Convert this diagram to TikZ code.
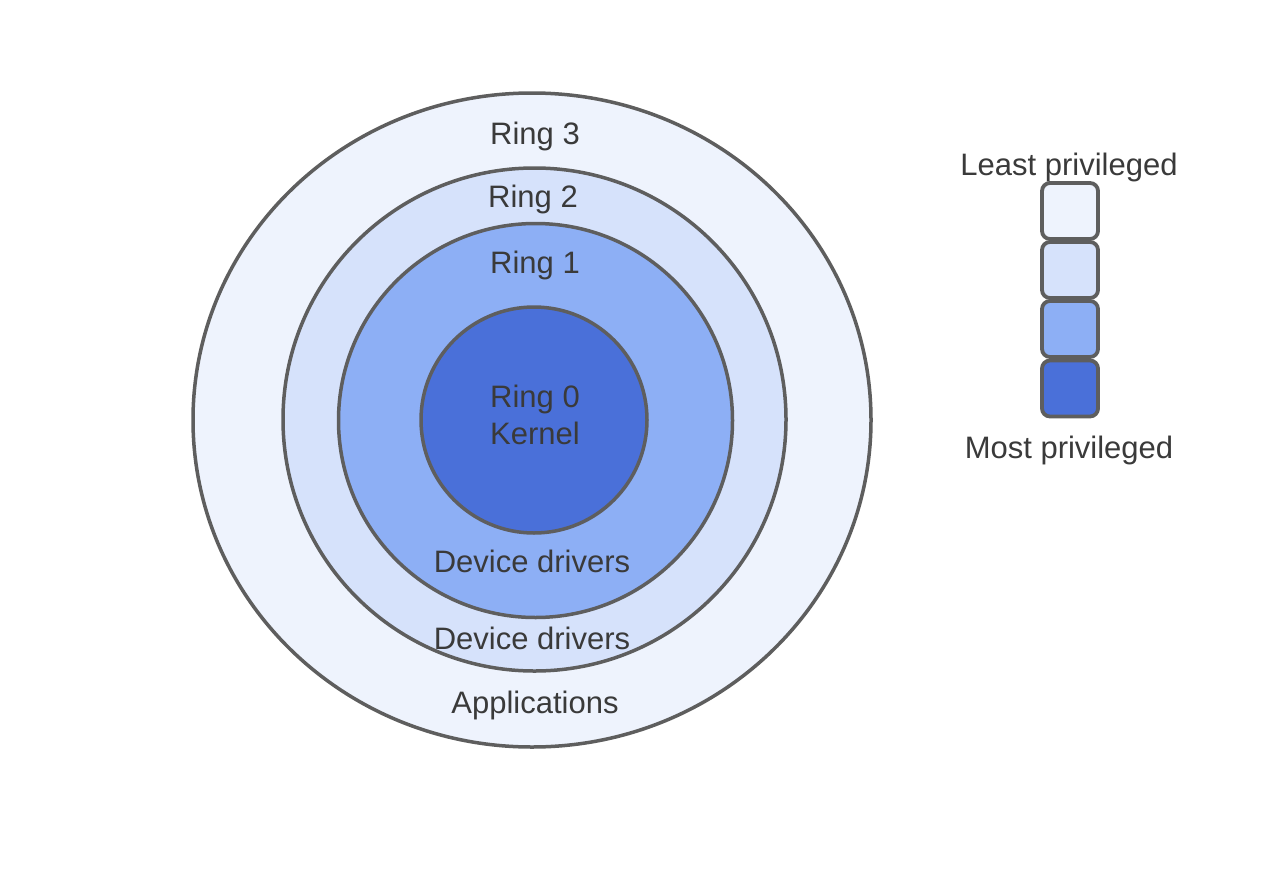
\documentclass[tikz,border=0pt]{standalone}
\usepackage{fontspec}
\setmainfont{Liberation Sans}
\usetikzlibrary{shapes.geometric}
\definecolor{cthree}{HTML}{EEF3FD}
\definecolor{ctwo}{HTML}{D6E2FB}
\definecolor{cone}{HTML}{8DAFF5}
\definecolor{czero}{HTML}{4A70D9}
\definecolor{edge}{HTML}{5E5E5E}
\definecolor{txt}{HTML}{3A3A3A}
\begin{document}
\begin{tikzpicture}[x=1pt,y=-1pt,
  ringshape/.style={draw=edge, line width=3.5pt, inner sep=0pt},
  lbl/.style={anchor=base, text=txt, font=\fontsize{31}{36}\selectfont, inner sep=0pt},
  keybox/.style={draw=edge, line width=3.8pt, rounded corners=8pt, minimum width=56pt, minimum height=56pt, inner sep=0pt}]
\path[fill=white] (0,0) rectangle (1276,878);
\useasboundingbox (0,0) rectangle (1276,878);
\node[ringshape, ellipse, minimum width=678pt, minimum height=654pt, fill=cthree] (r3) at (532,420) {};
\node[ringshape, circle, minimum size=503pt, fill=ctwo] (r2) at (534.5,419.5) {};
\node[ringshape, circle, minimum size=394pt, fill=cone] (r1) at (535.5,420.5) {};
\node[ringshape, circle, minimum size=226pt, fill=czero] (r0) at (534,420) {};
\node[lbl] (t3) at (535,144) {Ring 3};
\node[lbl] (t2) at (533,207) {Ring 2};
\node[lbl] (t1) at (535,273) {Ring 1};
\node[lbl] (t0) at (535,407) {Ring 0};
\node[lbl] (tk) at (535,444) {Kernel};
\node[lbl] (d1) at (532,572) {Device drivers};
\node[lbl] (d2) at (532,649) {Device drivers};
\node[lbl] (ap) at (535,713) {Applications};
\node[keybox, fill=cthree] (k3) at (1070,211) {};
\node[keybox, fill=ctwo] (k2) at (1070,270) {};
\node[keybox, fill=cone] (k1) at (1070,329) {};
\node[keybox, fill=czero] (k0) at (1070,388.5) {};
\node[lbl] (least) at (1069,175) {Least privileged};
\node[lbl] (most) at (1069,458) {Most privileged};
\end{tikzpicture}
\end{document}
